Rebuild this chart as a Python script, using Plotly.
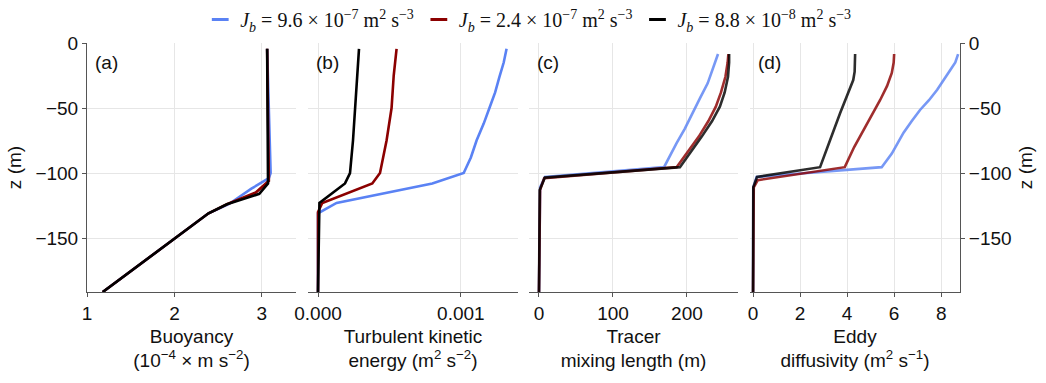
import plotly.graph_objects as go

W, H = 1046, 383

# ---------------- data ----------------
labels = [
    "<i>J</i><sub><i>b</i></sub> = 9.6 × 10<sup>−7</sup> m<sup>2</sup> s<sup>−3</sup>",
    "<i>J</i><sub><i>b</i></sub> = 2.4 × 10<sup>−7</sup> m<sup>2</sup> s<sup>−3</sup>",
    "<i>J</i><sub><i>b</i></sub> = 8.8 × 10<sup>−8</sup> m<sup>2</sup> s<sup>−3</sup>",
]
colors = ["#5A82F4", "#8B0000", "#000000"]

# (a) buoyancy (1e-4 m s^-2)
za_blue = [-4.5, -50, -100, -104, -112, -124, -131, -191.5]
ba_blue = [3.06, 3.08, 3.10, 3.08, 2.88, 2.62, 2.39, 1.18]
za_red = [-4.5, -50, -100, -106, -115, -124, -131, -191.5]
ba_red = [3.06, 3.07, 3.08, 3.08, 2.93, 2.60, 2.39, 1.18]
za_black = [-4.5, -50, -100, -108, -116, -124, -131, -191.5]
ba_black = [3.06, 3.065, 3.07, 3.07, 2.97, 2.60, 2.39, 1.18]

# (b) turbulent kinetic energy (m^2 s^-2)
zb_blue = [-4.5, -15, -26, -38, -50, -62, -75, -88, -100, -108, -123, -131, -191.5]
eb_blue = [0.00132, 0.00130, 0.00127, 0.00124, 0.00120, 0.00116, 0.00111,
           0.00107, 0.00102, 0.00080, 0.00013, 0.0, 0.0]
zb_red = [-4.5, -25, -50, -75, -100, -108, -123, -130, -191.5]
eb_red = [0.00055, 0.00053, 0.000515, 0.00048, 0.000434, 0.00038, 0.00003, 0.0, 0.0]
zb_black = [-4.5, -25, -50, -75, -100, -108, -123, -191.5]
eb_black = [0.000287, 0.000275, 0.000264, 0.000245, 0.000224, 0.000189, 0.00001, 0.0]

# (c) tracer mixing length (m)
zc_blue = [-8.5, -17, -31, -42, -54, -66, -77, -88, -95.5, -103, -111, -191.5]
lc_blue = [242, 237, 228, 218, 208, 197, 186, 176, 169, 8, 1.5, 0]
zc_red = [-8.5, -15, -26, -38, -49, -60, -72, -84, -95.5, -104, -113, -191.5]
lc_red = [256, 255, 252, 246, 239, 229, 216, 201, 186, 7, 1.5, 0]
zc_black = [-8.5, -15, -26, -38, -49, -60, -72, -84, -95.5, -103.5, -113, -191.5]
lc_black = [257, 257, 255.5, 251, 244.5, 234, 220, 205, 190.5, 8, 1, 0]

# (d) eddy diffusivity (m^2 s^-1)
zd_blue = [-8.5, -15, -21, -28, -36, -44, -51.5, -60, -69, -77, -85, -95.5, -103, -111, -191.5]
kd_blue = [8.72, 8.6, 8.38, 8.12, 7.83, 7.48, 7.1, 6.75, 6.4, 6.15, 5.9, 5.47, 0.15, 0.01, 0.0]
zd_red = [-8.5, -15, -23, -33, -44, -55, -67, -80, -95.5, -105.5, -111, -191.5]
kd_red = [6.0, 5.98, 5.9, 5.7, 5.4, 5.07, 4.7, 4.3, 3.9, 0.2, 0.03, 0.0]
zd_black = [-8.5, -15, -22, -28.5, -40, -54, -75, -95.5, -103, -111, -191.5]
kd_black = [4.34, 4.34, 4.32, 4.26, 4.0, 3.7, 3.27, 2.85, 0.17, 0.01, 0.0]

z_ticks = [0, -50, -100, -150]
panel_tags = ["(a)", "(b)", "(c)", "(d)"]
x_titles = [
    "Buoyancy<br>(10<sup>−4</sup> × m s<sup>−2</sup>)",
    "Turbulent kinetic<br>energy (m<sup>2</sup> s<sup>−2</sup>)",
    "Tracer<br>mixing length (m)",
    "Eddy<br>diffusivity (m<sup>2</sup> s<sup>−1</sup>)",
]

# ---------------- figure ----------------
panels = [
    ([ba_blue, ba_red, ba_black], [za_blue, za_red, za_black], 1.0),
    ([eb_blue, eb_red, eb_black], [zb_blue, zb_red, zb_black], 1.0),
    ([lc_blue, lc_red, lc_black], [zc_blue, zc_red, zc_black], 0.82),
    ([kd_blue, kd_red, kd_black], [zd_blue, zd_red, zd_black], 0.82),
]

fig = go.Figure()
for p, (xs, zs, op) in enumerate(panels):
    ax = "" if p == 0 else str(p + 1)
    for i in range(3):
        fig.add_trace(go.Scatter(
            x=xs[i], y=zs[i], mode="lines",
            line=dict(color=colors[i], width=2.6),
            opacity=op, showlegend=False,
            xaxis="x" + ax, yaxis="y" + ax, hoverinfo="skip"))

for i in range(3):
    fig.add_trace(go.Scatter(
        x=[None], y=[None], mode="markers", name=labels[i],
        marker=dict(symbol="line-ew-open", size=12, color=colors[i],
                    line=dict(width=3, color=colors[i])),
        showlegend=True))

FONT = "Liberation Sans, Arial, sans-serif"
FS = 19
grid = "#e6e6e6"
axc = "#555555"

px_dom = [(87, 296), (308, 518), (529, 738), (750, 960)]
x_ranges = [[1, 3.39], [-0.00007, 0.0014], [-13.5, 269], [-0.13, 8.8]]
x_tickvals = [[1, 2, 3], [0, 0.001], [0, 100, 200], [0, 2, 4, 6, 8]]
x_ticktext = [["1", "2", "3"], ["0.000", "0.001"], ["0", "100", "200"],
              ["0", "2", "4", "6", "8"]]
ydom = [1 - 292 / H, 1 - 43 / H]

layout = dict(
    width=W, height=H,
    margin=dict(l=0, r=0, t=0, b=0),
    paper_bgcolor="white", plot_bgcolor="white",
    font=dict(family=FONT, size=FS, color="#111111"),
    showlegend=True,
    legend=dict(orientation="h", x=0.505, xanchor="center", y=1.0, yanchor="top",
                font=dict(family="Liberation Serif, DejaVu Serif, serif", size=20),
                itemwidth=30, tracegroupgap=0, bgcolor="rgba(0,0,0,0)"),
)

for p in range(4):
    ax = "" if p == 0 else str(p + 1)
    l, r = px_dom[p]
    layout["xaxis" + ax] = dict(
        domain=[l / W, r / W], range=x_ranges[p],
        tickvals=x_tickvals[p], ticktext=x_ticktext[p],
        showgrid=True, gridcolor=grid, gridwidth=1, zeroline=False,
        showline=True, linecolor=axc, linewidth=1,
        ticks="outside", ticklen=4, tickcolor=axc,
        tickfont=dict(size=FS), anchor="y" + ax,
        title=dict(text=x_titles[p], font=dict(size=FS), standoff=6),
        automargin=False,
    )
    ydict = dict(
        domain=ydom, range=[-191.5, 0], tickvals=z_ticks,
        showgrid=True, gridcolor=grid, gridwidth=1, zeroline=False,
        anchor="x" + ax, automargin=False,
    )
    if p == 0:
        ydict.update(showline=True, linecolor=axc, linewidth=1, ticks="outside",
                     ticklen=4, tickcolor=axc, showticklabels=True,
                     tickfont=dict(size=FS),
                     title=dict(text="z (m)", font=dict(size=FS), standoff=8))
    elif p == 3:
        ydict.update(side="right", showline=True, linecolor=axc, linewidth=1,
                     ticks="outside", ticklen=4, tickcolor=axc, showticklabels=True,
                     tickfont=dict(size=FS),
                     title=dict(text="z (m)", font=dict(size=FS), standoff=8))
    else:
        ydict.update(showline=False, ticks="", showticklabels=False)
    layout["yaxis" + ax] = ydict

annotations = []
for p in range(4):
    l, r = px_dom[p]
    annotations.append(dict(
        text=panel_tags[p], xref="paper", yref="paper",
        x=(l + 6) / W, y=1 - 62 / H, xanchor="left", yanchor="middle",
        showarrow=False, font=dict(size=FS, family=FONT)))
layout["annotations"] = annotations

fig.update_layout(**layout)
fig.write_html("out.html")
